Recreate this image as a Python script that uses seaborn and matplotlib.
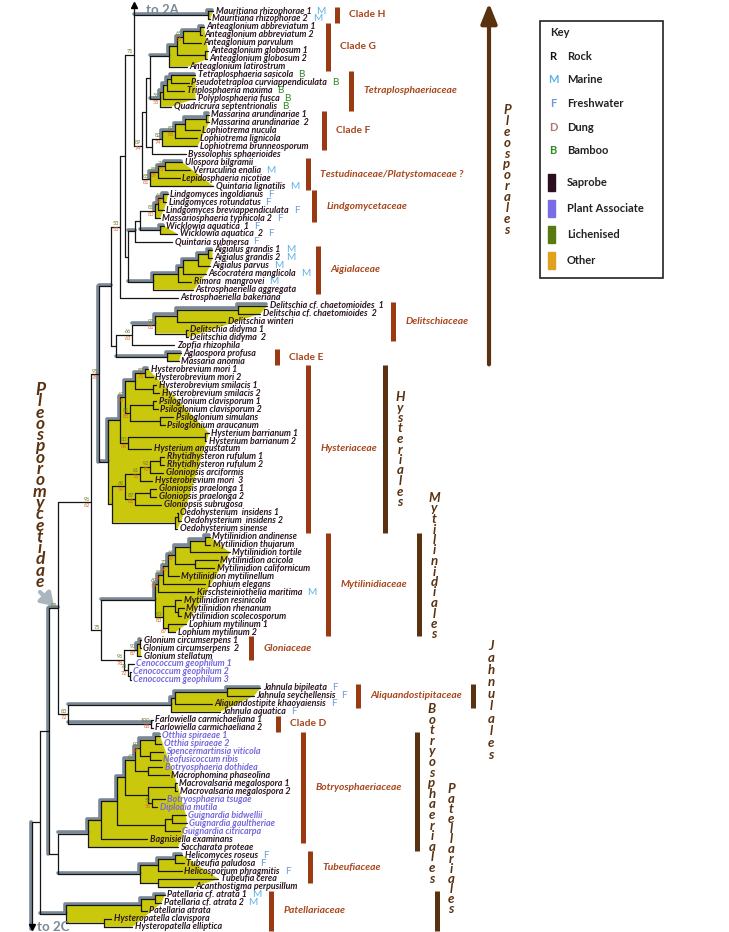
import matplotlib
matplotlib.use("Agg")
import matplotlib.pyplot as plt
from matplotlib.patches import Rectangle
import numpy as np
import pandas as pd
import seaborn as sns

# taxa from top to bottom (0 and 117 are the links to the other panels)
taxa = [
    "to 2A",
    "Mauritiana rhizophorae 1", "Mauritiana rhizophorae 2",
    "Anteaglonium abbreviatum 1", "Anteaglonium abbreviatum 2", "Anteaglonium parvulum",
    "Anteaglonium globosum 1", "Anteaglonium globosum 2", "Anteaglonium latirostrum",
    "Tetraplosphaeria sasicola", "Pseudotetraploa curviappendiculata", "Triplosphaeria maxima",
    "Polyplosphaeria fusca", "Quadricrura septentrionalis",
    "Massarina arundinariae 1", "Massarina arundinariae  2", "Lophiotrema nucula",
    "Lophiotrema lignicola", "Lophiotrema brunneosporum", "Byssolophis sphaerioides",
    "Ulospora bilgramii", "Verruculina enalia", "Lepidosphaeria nicotiae", "Quintaria lignatilis",
    "Lindgomyces ingoldianus", "Lindgomyces rotundatus", "Lindgomyces breviappendiculata",
    "Massariosphaeria typhicola 2", "Wicklowia aquatica  1", "Wicklowia aquatica  2",
    "Quintaria submersa",
    "Aigialus grandis 1", "Aigialus grandis 2", "Aigialus parvus", "Ascocratera manglicola",
    "Rimora  mangrovei", "Astrosphaeriella aggregata", "Astrosphaeriella bakeriana",
    "Delitschia cf. chaetomioides  1", "Delitschia cf. chaetomioides  2", "Delitschia winteri",
    "Delitschia didyma 1", "Delitschia didyma  2", "Zopfia rhizophila",
    "Aglaospora profusa", "Massaria anomia",
    "Hysterobrevium mori 1", "Hysterobrevium mori 2", "Hysterobrevium smilacis 1",
    "Hysterobrevium smilacis 2", "Psiloglonium clavisporum 1", "Psiloglonium clavisporum 2",
    "Psiloglonium simulans", "Psiloglonium araucanum", "Hysterium barrianum 1",
    "Hysterium barrianum 2", "Hysterium angustatum", "Rhytidhysteron rufulum 1",
    "Rhytidhysteron rufulum 2", "Gloniopsis arciformis", "Hysterobrevium mori  3",
    "Gloniopsis praelonga 1", "Gloniopsis praelonga 2", "Gloniopsis subrugosa",
    "Oedohysterium  insidens 1", "Oedohysterium  insidens 2", "Oedohysterium sinense",
    "Mytilinidion andinense", "Mytilinidion thujarum", "Mytilinidion tortile",
    "Mytilinidion acicola", "Mytilinidion californicum", "Mytilinidion mytilinellum",
    "Lophium elegans", "Kirschsteiniothelia maritima", "Mytilinidion resinicola",
    "Mytilinidion rhenanum", "Mytilinidion scolecosporum", "Lophium mytilinum 1",
    "Lophium mytilinum 2",
    "Glonium circumserpens 1", "Glonium circumserpens  2", "Glonium stellatum",
    "Cenococcum geophilum 1", "Cenococcum geophilum 2", "Cenococcum geophilum 3",
    "Jahnula bipileata", "Jahnula seychellensis", "Aliquandostipite khaoyaiensis",
    "Jahnula aquatica", "Farlowiella carmichaeliana 1", "Farlowiella carmichaeliana 2",
    "Otthia spiraeae 1", "Otthia spiraeae 2", "Spencermartinsia viticola", "Neofusicoccum ribis",
    "Botryosphaeria dothidea", "Macrophomina phaseolina", "Macrovalsaria megalospora 1",
    "Macrovalsaria megalospora 2", "Botryosphaeria tsugae", "Diplodia mutila",
    "Guignardia bidwellii", "Guignardia gaultheriae", "Guignardia citricarpa",
    "Bagnisiella examinans", "Saccharata proteae",
    "Helicomyces roseus", "Tubeufia paludosa", "Helicosporium phragmitis", "Tubeufia cerea",
    "Acanthostigma perpusillum",
    "Patellaria cf. atrata 1", "Patellaria cf. atrata 2", "Patellaria atrata",
    "Hysteropatella clavispora", "Hysteropatella elliptica",
    "to 2C",
]

plant_associates = [83, 84, 85, 92, 93, 94, 95, 96, 100, 101, 102, 103, 104]
habitat_taxa = [1, 2, 9, 10, 11, 12, 13, 21, 23, 24, 25, 26, 27, 28, 29, 30,
                31, 32, 33, 34, 35, 74, 86, 87, 88, 89, 107, 108, 109, 112, 113]
habitat_codes = ["M", "M", "B", "B", "B", "B", "B", "M", "M", "F", "F", "F", "F", "F", "F", "F",
                 "M", "M", "M", "M", "M", "M", "F", "F", "F", "F", "F", "F", "F", "M", "M"]

# clades: (taxon index:depth), node label = bootstrap "ML/MP"
maur = "(1:213.5,2:210):208"
clade_g = "((((3:204,4:202.5):200,5:201.5)65/65:183,(6:208,7:207.5):205):177,8:187.5):169"
tetra = "((((9:195.5,10:189):171,11:184.5):167,12:195.5):163,13:171.5)56/55:160"
clade_f = "((((14:209,15:209):206,16:200):185,17:197.5)89/85:175,18:197.5)82/74:162"
testud = "(((20:182.5,21:190.5)74/73:165,22:180)88/69:158,23:213.5)85/81:150"
lind = "(((24:168,25:166.5)64/58:163,26:164):158,27:160)81/80:155"
aig = "(((((31:212.5,32:212.5):208,33:210):198,34:206):183,35:191.5):178,36:193.5):153"
delit = "(((38:267.5,39:260.5):238,40:225.5):177,(41:188,42:188):186)93/81:155"
hyst_a = ("((((46:148.5,47:153)83/71:145,(48:156.5,49:159.5):153):135,"
          "((50:156.5,51:158):153,(52:173.5,53:165):160)81/85:130)62/65:125,"
          "((54:209,55:206.5):205,56:151.5)80/68:128):120")
hyst_b = ("(((((57:164.5,58:164.5):160,59:163.5)92/70:150,60:152.5)61/56:140,"
          "((61:156.5,62:156.5):150,63:161.5)87/88:135)69/59:125,"
          "((64:177.5,65:181.5):178,66:177.5):175):112")
myt_a = ("((((((67:210,68:210.5):205,69:230):190,(70:218,71:214.5):195)66/59:175,"
         "72:179)73/68:168,73:205.5)86/61:163,74:194.5)69/59:158")
myt_b = "((75:181.5,(76:184,77:181.5):178):175,(78:186.5,79:175.5)/87:168)90/83:163"
glon = "(((80:141.5,81:141):140,82:141.5)90/87:137,(83:134,(84:131,85:131):130)78/72:128)96/76:124"
jahn = "((((86:260.5,87:254):227,88:212.5):175,89:220):171,(90:153,91:153)100/88:151)83/72:68"
bot_a = "(((92:160,93:161.5):155,(94:163.5,95:161):150)90/87:140,(96:162.5,97:169):148)62:135"
bot_b = "((98:177,99:177.5):175,(100:165,101:157.5)59/56:152):148"
bot_c = "((102:186,103:187):172,104:180):165"
tubeuf = "(((107:182.5,108:184):175,109:182):158,(110:218.5,111:193.5):158):140"
patell = "(((112:165,113:161.5):155,114:147):141,(115:111.5,116:132.5):104):66"

upper = f"(0:134,{maur},((({clade_g},{tetra}):150,({clade_f},19:186):152):146,{testud})89/74:142)71:134"
lgroup = f"(({lind},(28:164,29:177.5):160):140,30:172.5):135"
pleo = (f"((({upper},({lgroup},{aig}):128):125,37:178)53/53:120,"
        f"(({delit},43:174.5)66/63:132,(44:181.5,45:179):167):116):111")
hyst = f"({hyst_a},{hyst_b}):108"
mytil = f"(({myt_a},{myt_b}):155,{glon})75:101"
botryo = f"(((({bot_a},{bot_b}):125,{bot_c}):117,105:147.5):101,106:178):88"
tree_str = (f"(((((({pleo},{hyst})95/78:99,{mytil})96/62:91,{jahn})85:58,"
            f"({botryo},{tubeuf}):58):49,{patell}):40,117:32):32")

yellow_clades = [(1, 2), (3, 8), (9, 13), (14, 18), (20, 23), (24, 27), (28, 29), (31, 36),
                 (38, 42), (44, 45), (46, 66), (67, 79), (80, 82), (86, 89), (92, 106),
                 (107, 111), (112, 116)]
gray_stems = [(1, 2), (3, 8), (9, 13), (24, 30), (28, 29), (31, 36), (38, 42), (44, 45),
              (0, 45), (46, 66), (67, 79), (86, 89), (90, 91), (92, 106), (107, 111),
              (112, 116), (0, 91)]
gray_verticals = [(0, 66), (0, 111), (0, 117)]

clade_names = ["Clade H", "Clade G", "Tetraplosphaeriaceae", "Clade F",
               "Testudinaceae/Platystomaceae ?", "Lindgomycetaceae", "Aigialaceae",
               "Delitschiaceae", "Clade E", "Hysteriaceae", "Mytilinidiaceae", "Gloniaceae",
               "Aliquandostipitaceae", "Clade D", "Botryosphaeriaceae", "Tubeufiaceae",
               "Patellariaceae"]
clade_first = [1, 3, 9, 14, 20, 24, 31, 38, 44, 46, 67, 80, 86, 90, 92, 107, 112]
clade_last = [2, 8, 13, 18, 23, 27, 36, 42, 45, 66, 79, 82, 88, 91, 105, 110, 116]
clade_bar_x = [337, 328, 351, 324, 308, 314, 318, 393, 277, 308, 328, 251, 358, 278, 303, 310, 271]

order_names = ["Hysteriales", "Mytilinidiales", "Jahnulales", "Botryosphaeriales", "Patellariales"]
order_first = [46, 67, 86, 92, 112]
order_last = [66, 79, 88, 106, 116]
order_bar_x = [385, 419, 473, 417, 437]
order_text_x = [400, 434, 491, 432, 451]
order_text_y = [397, 498, 646, 709, 789]
order_step = [10.5, 10.5, 12.1, 10.6, 10.0]

key_codes = ["R", "M", "F", "D", "B"]
key_code_names = ["Rock", "Marine", "Freshwater", "Dung", "Bamboo"]
key_code_colors = ["#111111", "#5fb3ea", "#6d9bdc", "#a9786c", "#2f8a22"]
key_life = ["Saprobe", "Plant Associate", "Lichenised", "Other"]
key_life_colors = ["#2c0f1f", "#7a6ce6", "#587a10", "#e0a020"]

YELLOW = "#c9c80c"
GRAY = "#7a8996"
RUST = "#9a3a12"
BROWN = "#5a3210"
TAXON = "#2b1522"
PURPLE = "#7468de"
code_color = dict(zip(key_codes, key_code_colors))

sns.set_theme(style="white")
plt.rcParams["font.family"] = ["Lato", "DejaVu Sans"]


def parse_tree(s):
    pos = 0

    def read(parent):
        nonlocal pos
        node = {"kids": [], "parent": parent}
        if s[pos] == "(":
            pos += 1
            node["kids"].append(read(node))
            while s[pos] == ",":
                pos += 1
                node["kids"].append(read(node))
            pos += 1
        start = pos
        while s[pos] != ":":
            pos += 1
        node["label"] = s[start:pos]
        pos += 1
        start = pos
        while pos < len(s) and s[pos] not in ",)":
            pos += 1
        node["x"] = float(s[start:pos])
        return node

    return read(None)


row_top, row_step = 3.04, 7.963
root = parse_tree(tree_str)
nodes = []


def layout(n):
    nodes.append(n)
    if not n["kids"]:
        i = int(n["label"])
        n["y"] = min(row_top + i * row_step, 929)
        n["lo"] = n["hi"] = i
    else:
        for k in n["kids"]:
            layout(k)
        n["y"] = np.mean([k["y"] for k in n["kids"]])
        n["lo"], n["hi"] = n["kids"][0]["lo"], n["kids"][-1]["hi"]


layout(root)
by_range = {(n["lo"], n["hi"]): n for n in nodes}
leaves = {n["lo"]: n for n in nodes if not n["kids"]}


def edge_path(n, side):
    pts = [(n["x"], n["y"])]
    while n["kids"]:
        c = n["kids"][side]
        pts += [(n["x"], c["y"]), (c["x"], c["y"])]
        n = c
    return pts


def right_hull(pts):
    pts = sorted(pts, key=lambda p: p[1])
    chain = []
    for p in pts:
        while len(chain) >= 2:
            (x0, y0), (x1, y1) = chain[-2], chain[-1]
            if (y1 - y0) * (p[0] - x0) - (x1 - x0) * (p[1] - y0) >= 0:
                chain.pop()
            else:
                break
        chain.append(p)
    return chain


fig = plt.figure(figsize=(7.29, 9.32), dpi=100)
ax = fig.add_axes([0, 0, 1, 1])

# yellow clade shading
gray_rows = []
for lo, hi in yellow_clades:
    n = by_range[(lo, hi)]
    top, bot = edge_path(n, 0), edge_path(n, -1)
    tips = [(leaves[i]["x"], leaves[i]["y"]) for i in range(lo, hi + 1)]
    poly = top + right_hull(tips)[1:] + bot[::-1][1:]
    ax.fill([p[0] for p in poly], [p[1] for p in poly], color=YELLOW, lw=0, zorder=1)
    for x, y in top:
        gray_rows.append((f"y{lo}", x - 1, y - 1.2))

for lo, hi in gray_stems:
    n = by_range[(lo, hi)]
    gray_rows += [(f"s{lo}-{hi}", n["parent"]["x"], n["y"] - 1.2), (f"s{lo}-{hi}", n["x"], n["y"] - 1.2)]
for lo, hi in gray_verticals:
    n = by_range[(lo, hi)]
    ys = [k["y"] for k in n["kids"]]
    gray_rows += [(f"v{lo}-{hi}", n["x"] - 1.2, min(ys)), (f"v{lo}-{hi}", n["x"] - 1.2, max(ys))]

black_rows = []
for j, n in enumerate(nodes):
    if n["parent"] is not None:
        black_rows += [(f"h{j}", n["parent"]["x"], n["y"]), (f"h{j}", n["x"], n["y"])]
    if n["kids"]:
        ys = [k["y"] for k in n["kids"]]
        black_rows += [(f"v{j}", n["x"], min(ys)), (f"v{j}", n["x"], max(ys))]

gray_df = pd.DataFrame(gray_rows, columns=["seg", "x", "y"])
black_df = pd.DataFrame(black_rows, columns=["seg", "x", "y"])
sns.lineplot(data=gray_df, x="x", y="y", units="seg", estimator=None, sort=False,
             color=GRAY, linewidth=2.6, legend=False, ax=ax, zorder=2)
sns.lineplot(data=black_df, x="x", y="y", units="seg", estimator=None, sort=False,
             color="#151515", linewidth=0.9, legend=False, ax=ax, zorder=3)

ax.set_xlim(0, 729)
ax.set_ylim(932, 0)
ax.axis("off")
fig.canvas.draw()
renderer = fig.canvas.get_renderer()
inv = ax.transData.inverted()


def stacked(x, y_first, word, step, **kw):
    # one text per word, letters stacked; line spacing tuned so letters sit `step` px apart
    n = len(word)
    t = ax.text(x, y_first + (n - 1) * step / 2, word[0], ha="center", va="center",
                multialignment="center", linespacing=1.0, **kw)
    h0 = t.get_window_extent(renderer).height
    t.set_text("\n".join(word))
    h1 = t.get_window_extent(renderer).height
    t.set_linespacing(2.0)
    h2 = t.get_window_extent(renderer).height
    b = h2 - h1
    a = h1 - b
    t.set_linespacing((h0 + (n - 1) * step - a) / b)
    return t


# bootstrap values
for n in nodes:
    if n["kids"] and n["label"]:
        parts = n["label"].split("/")
        if parts[0]:
            ax.text(n["x"] - 0.8, n["y"] - 0.6, parts[0], ha="right", va="bottom",
                    fontsize=4.0, color="#6b7d2a", zorder=5)
        if len(parts) > 1 and parts[1]:
            ax.text(n["x"] - 0.8, n["y"] + 0.6, parts[1], ha="right", va="top",
                    fontsize=4.0, color="#e2612a", zorder=5)

# taxon labels
label_art = {}
for i in range(1, len(taxa) - 1):
    lf = leaves[i]
    col = PURPLE if i in plant_associates else TAXON
    label_art[i] = ax.text(lf["x"] + 2.2, lf["y"], taxa[i], ha="left", va="center",
                           fontsize=6.4, fontstyle="italic", fontweight="bold", color=col, zorder=6)
for i, code in zip(habitat_taxa, habitat_codes):
    bb = label_art[i].get_window_extent(renderer)
    x_end = inv.transform((bb.x1, bb.y0))[0]
    ax.text(x_end + 5, leaves[i]["y"], code, ha="left", va="center", fontsize=7.2,
            color=code_color[code], zorder=6)

# links to other panels
top_leaf, bot_leaf = leaves[0], leaves[len(taxa) - 1]
ax.plot(top_leaf["x"], top_leaf["y"] + 2, marker="^", ms=5, color="black", zorder=6)
ax.text(top_leaf["x"] + 12, top_leaf["y"] + 7, "to 2A", fontsize=9.5, fontweight="bold",
        color=GRAY, va="center")
ax.plot(bot_leaf["x"], bot_leaf["y"] - 2, marker="v", ms=5, color="black", zorder=6)
ax.text(bot_leaf["x"] + 5, bot_leaf["y"] - 2, "to 2C", fontsize=9.5, fontweight="bold",
        color=GRAY, va="center")

# clade / family bars
for name, a, b, bx in zip(clade_names, clade_first, clade_last, clade_bar_x):
    y0, y1 = leaves[a]["y"] - 4, leaves[b]["y"] + 4
    ax.plot([bx, bx], [y0, y1], color=RUST, lw=3.6, solid_capstyle="butt", zorder=4)
    italic = "italic" if not name.startswith("Clade") else "normal"
    ax.text(bx + 12.5, (y0 + y1) / 2, name, ha="left", va="center", fontsize=7.4,
            fontweight="bold", fontstyle=italic, color="#a8461c")

# orders
for name, a, b, bx, tx, ty, st in zip(order_names, order_first, order_last, order_bar_x,
                                     order_text_x, order_text_y, order_step):
    y0, y1 = leaves[a]["y"] - 4, min(leaves[b]["y"] + 4, 931)
    ax.plot([bx, bx], [y0, y1], color=BROWN, lw=3.6, solid_capstyle="butt", zorder=4)
    stacked(tx, ty, name, st, fontsize=9.5, fontweight="bold", fontstyle="italic", color=BROWN)

# Pleosporales arrow
ax.annotate("", xy=(489, 3), xytext=(489, leaves[45]["y"] + 3),
            arrowprops=dict(arrowstyle="-|>,head_width=0.4,head_length=1.0",
                            lw=3, color=BROWN, shrinkA=0, shrinkB=0))
stacked(507, 110, "Pleosporales", 10.9, fontsize=9.5, fontweight="bold",
        fontstyle="italic", color=BROWN)

# subclass
stacked(40, 390, "Pleosporomycetidae", 11.3, fontsize=12.5, fontweight="bold",
        fontstyle="italic", color=BROWN)
ax.annotate("", xy=(54, 606), xytext=(40, 592),
            arrowprops=dict(arrowstyle="-|>,head_width=0.4,head_length=0.6",
                            lw=3, color="#aab5be", shrinkA=0, shrinkB=0))

# key
ax.add_patch(Rectangle((540, 21), 123, 257, fill=False, ec="#222222", lw=1.2, zorder=5))
ax.text(550, 33, "Key", fontsize=8, fontweight="bold", color="#222222", va="center")
for k, (c, lab, col) in enumerate(zip(key_codes, key_code_names, key_code_colors)):
    y = 56 + k * 23.7
    ax.text(553, y, c, fontsize=8, fontweight="bold", color=col, va="center", ha="center")
    ax.text(567, y, lab, fontsize=8, fontweight="bold", color="#222222", va="center")
for k, (lab, col) in enumerate(zip(key_life, key_life_colors)):
    y = 182 + k * 26.3
    ax.add_patch(Rectangle((548, y - 8.5), 7, 17, color=col, zorder=5))
    ax.text(567, y, lab, fontsize=8, fontweight="bold", color="#222222", va="center")

fig.savefig("out.png", dpi=100)
